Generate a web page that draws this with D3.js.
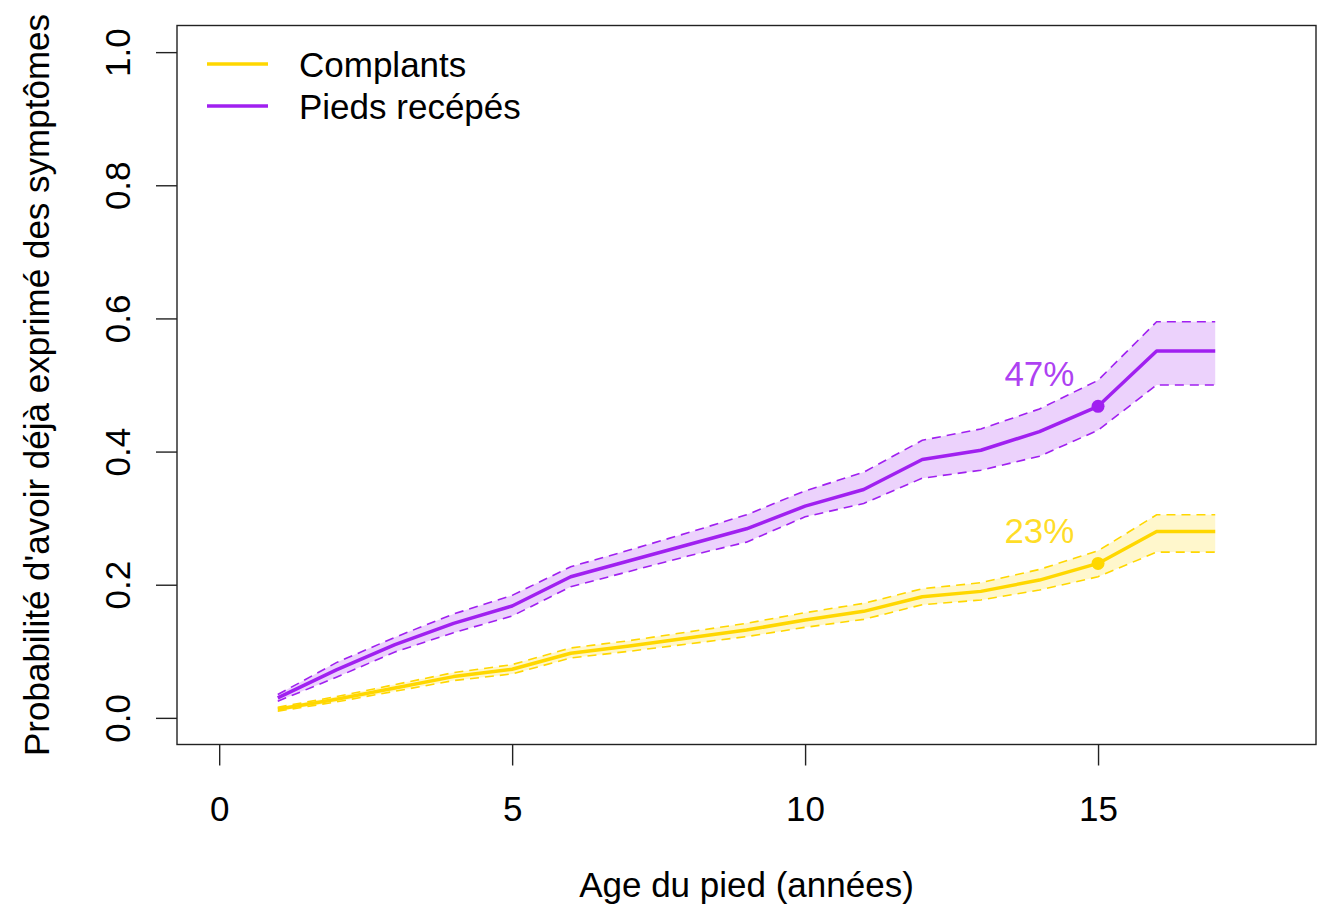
<!DOCTYPE html>
<html>
<head>
<meta charset="utf-8">
<script src="https://cdn.jsdelivr.net/npm/d3@7"></script>
<style>
  html, body { margin: 0; padding: 0; background: #fff; }
  svg { display: block; font-family: "Liberation Sans", Arial, Helvetica, sans-serif; }
</style>
</head>
<body>
<svg id="chart" width="1317" height="909"></svg>
<script>
// ---- data ----
const ages = [1, 2, 3, 4, 5, 6, 7, 8, 9, 10, 11, 12, 13, 14, 15, 16, 17];

const complants     = [0.013, 0.028, 0.045, 0.062, 0.073, 0.097, 0.108, 0.120, 0.132, 0.147, 0.160, 0.182, 0.190, 0.207, 0.232, 0.280, 0.280];
const complantsLow  = [0.010, 0.024, 0.040, 0.056, 0.066, 0.090, 0.100, 0.111, 0.122, 0.136, 0.148, 0.170, 0.177, 0.192, 0.212, 0.249, 0.249];
const complantsHigh = [0.016, 0.032, 0.050, 0.068, 0.080, 0.105, 0.116, 0.129, 0.142, 0.158, 0.172, 0.194, 0.203, 0.223, 0.251, 0.305, 0.305];

const recepes     = [0.030, 0.072, 0.110, 0.142, 0.168, 0.212, 0.236, 0.260, 0.284, 0.318, 0.343, 0.388, 0.402, 0.430, 0.468, 0.551, 0.551];
const recepesLow  = [0.025, 0.061, 0.099, 0.128, 0.153, 0.197, 0.220, 0.243, 0.264, 0.302, 0.322, 0.360, 0.372, 0.393, 0.432, 0.500, 0.500];
const recepesHigh = [0.035, 0.083, 0.121, 0.156, 0.184, 0.227, 0.252, 0.278, 0.305, 0.341, 0.369, 0.417, 0.434, 0.464, 0.507, 0.595, 0.595];

const xTicks = [0, 5, 10, 15];
const yTicks = [0.0, 0.2, 0.4, 0.6, 0.8, 1.0];
const highlightAge = 15;
const labelAge = 14;

const seriesNames = ["Complants", "Pieds recépés"];
const seriesColors = ["#FFD700", "#A020F0"];
const bandColors = ["#FFF7CC", "#ECD2FC"];

const xTitle = "Age du pied (années)";
const yTitle = "Probabilité d'avoir déjà exprimé des symptômes";

// ---- layout ----
const svg = d3.select("#chart");
const L = 177, R = 1316, T = 25.5, B = 744.5;
const fs = 35;

const x = d3.scaleLinear().domain([-0.72, 18.72]).range([L, R]);
const y = d3.scaleLinear().domain([-0.04, 1.04]).range([B, T]);

const series = [
  { name: seriesNames[0], v: complants, lo: complantsLow, hi: complantsHigh, color: seriesColors[0], band: bandColors[0] },
  { name: seriesNames[1], v: recepes, lo: recepesLow, hi: recepesHigh, color: seriesColors[1], band: bandColors[1] }
];

const area = d3.area()
  .x((d, i) => x(ages[i]))
  .y0(d => y(d[0]))
  .y1(d => y(d[1]));
const line = d3.line()
  .x((d, i) => x(ages[i]))
  .y(d => y(d));

const g = svg.append("g");

series.forEach(s => {
  const band = s.lo.map((l, i) => [l, s.hi[i]]);
  g.append("path").attr("d", area(band)).attr("fill", s.band).attr("stroke", "none");
});
series.forEach(s => {
  [s.lo, s.hi].forEach(b => {
    g.append("path").attr("d", line(b))
      .attr("fill", "none").attr("stroke", s.color)
      .attr("stroke-width", 1.6).attr("stroke-dasharray", "9,6");
  });
  g.append("path").attr("d", line(s.v))
    .attr("fill", "none").attr("stroke", s.color)
    .attr("stroke-width", 3.5).attr("stroke-linejoin", "round");
  const idx = ages.indexOf(highlightAge);
  g.append("circle").attr("cx", x(ages[idx])).attr("cy", y(s.v[idx])).attr("r", 6.5).attr("fill", s.color);
  g.append("text")
    .attr("x", x(labelAge)).attr("y", y(s.v[idx] + 0.05))
    .attr("text-anchor", "middle").attr("dominant-baseline", "central")
    .attr("font-size", fs).attr("fill", s.color).attr("fill-opacity", 0.85)
    .text(Math.round(s.v[idx] * 100) + "%");
});

// box
svg.append("rect").attr("x", L).attr("y", T).attr("width", R - L).attr("height", B - T)
  .attr("fill", "none").attr("stroke", "#222").attr("stroke-width", 1.4);

// x axis
const xAxis = d3.axisBottom(x).tickValues(xTicks).tickSize(21).tickPadding(31).tickFormat(d3.format("d"));
const xg = svg.append("g").attr("transform", `translate(0,${B})`).call(xAxis);
xg.select(".domain").remove();
xg.selectAll(".tick line").attr("stroke", "#222").attr("stroke-width", 1.4);
xg.selectAll(".tick text").attr("font-size", fs).attr("fill", "#000")
  .attr("font-family", "'Liberation Sans', Arial, sans-serif");

// y axis
const yAxis = d3.axisLeft(y).tickValues(yTicks).tickSize(21).tickFormat(d3.format(".1f"));
const yg = svg.append("g").attr("transform", `translate(${L},0)`).call(yAxis);
yg.select(".domain").remove();
yg.selectAll(".tick line").attr("stroke", "#222").attr("stroke-width", 1.4);
yg.selectAll(".tick text").remove();
yg.selectAll(".tick").append("text")
  .attr("transform", "translate(-47,0) rotate(-90)")
  .attr("text-anchor", "middle").attr("x", 0).attr("y", 0)
  .attr("font-size", fs).attr("fill", "#000")
  .attr("font-family", "'Liberation Sans', Arial, sans-serif")
  .text(d => d3.format(".1f")(d));

// titles
svg.append("text").attr("x", (L + R) / 2).attr("y", 897)
  .attr("text-anchor", "middle").attr("font-size", fs).attr("fill", "#000").text(xTitle);
svg.append("text").attr("transform", `translate(49,${(T + B) / 2}) rotate(-90)`)
  .attr("text-anchor", "middle").attr("font-size", fs).attr("fill", "#000").text(yTitle);

// legend
series.forEach((s, i) => {
  const ly = 64 + i * 42;
  svg.append("line").attr("x1", 207).attr("x2", 268).attr("y1", ly).attr("y2", ly)
    .attr("stroke", s.color).attr("stroke-width", 3.5);
  svg.append("text").attr("x", 299).attr("y", ly).attr("dominant-baseline", "central")
    .attr("font-size", fs).attr("fill", "#000").text(s.name);
});
</script>
</body>
</html>
